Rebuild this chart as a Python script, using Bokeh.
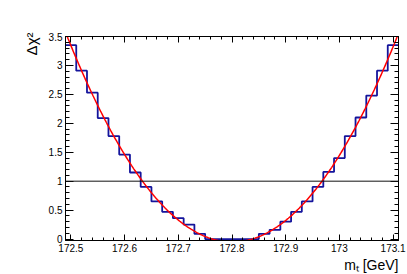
import numpy as np
from bokeh.plotting import figure
from bokeh.models import Range1d, LinearAxis, FixedTicker, Span, Title
from bokeh.embed import file_html
from bokeh.resources import INLINE

# ---- data ----
mass = [172.50, 172.52, 172.54, 172.56, 172.58, 172.60, 172.62, 172.64,
        172.66, 172.68, 172.70, 172.72, 172.74, 172.76, 172.78, 172.80,
        172.82, 172.84, 172.86, 172.88, 172.90, 172.92, 172.94, 172.96,
        172.98, 173.00, 173.02, 173.04, 173.06, 173.08, 173.10]
dchi2 = [3.35, 2.91, 2.53, 2.09, 1.78, 1.46, 1.15, 0.90,
         0.65, 0.47, 0.36, 0.25, 0.09, 0.00, 0.00, 0.00,
         0.00, 0.00, 0.09, 0.16, 0.30, 0.47, 0.65, 0.90,
         1.16, 1.40, 1.78, 2.10, 2.48, 2.91, 3.35]
bin_width = 0.02
ref_level = 1.0

x_tick_values = [172.5, 172.6, 172.7, 172.8, 172.9, 173.0, 173.1]
x_tick_labels = ["172.5", "172.6", "172.7", "172.8", "172.9", "173", "173.1"]
y_tick_values = [0.0, 0.5, 1.0, 1.5, 2.0, 2.5, 3.0, 3.5]
y_tick_labels = ["0", "0.5", "1", "1.5", "2", "2.5", "3", "3.5"]
x_title = "mₜ [GeV]"
y_title = "Δχ²"

x_lo, x_hi = 172.49, 173.11
y_lo, y_hi = -0.025, 3.5

x_minor = np.round(np.arange(172.50, 173.1001, 0.02), 2).tolist()
y_minor = np.round(np.arange(0.0, 3.5001, 0.1), 1).tolist()

FONT = "Liberation Sans"

p = figure(width=407, height=274, output_backend="svg", toolbar_location=None,
           x_range=Range1d(x_lo, x_hi), y_range=Range1d(y_lo, y_hi),
           x_axis_type=None, y_axis_type=None,
           min_border_left=65, min_border_right=9, min_border_top=36,
           min_border_bottom=34)
p.grid.visible = False
p.outline_line_color = "black"
p.background_fill_color = "white"
p.border_fill_color = "white"


def make_axis(ticks, minor, labels, tin, mtin, show=True):
    ax = LinearAxis(ticker=FixedTicker(ticks=ticks, minor_ticks=minor),
                    major_tick_in=tin, major_tick_out=0,
                    minor_tick_in=mtin, minor_tick_out=0,
                    axis_line_color="black", major_tick_line_color="black",
                    minor_tick_line_color="black",
                    major_label_overrides={v: l for v, l in zip(ticks, labels)},
                    major_label_text_font=FONT,
                    major_label_text_font_size="10px",
                    major_label_text_color="black",
                    major_label_standoff=3)
    if not show:
        ax.major_label_text_color = None
        ax.major_label_text_font_size = "1px"
        ax.major_label_standoff = 0
    return ax


p.add_layout(make_axis(x_tick_values, x_minor, x_tick_labels, 6, 3), "below")
p.add_layout(make_axis(x_tick_values, x_minor, x_tick_labels, 6, 3, False), "above")
p.add_layout(make_axis(y_tick_values, y_minor, y_tick_labels, 8, 4), "left")
p.add_layout(make_axis(y_tick_values, y_minor, y_tick_labels, 8, 4, False), "right")

# axis titles, aligned to the end of each axis as in the original
p.add_layout(Title(text=x_title, align="right", text_font=FONT,
                   text_font_size="14px", text_font_style="normal",
                   text_color="black", standoff=0), "below")
p.add_layout(Title(text=y_title, align="right", text_font=FONT,
                   text_font_size="15px", text_font_style="normal",
                   text_color="black", standoff=12, offset=-4), "left")

# histogram outline
edges = [m - bin_width / 2 for m in mass] + [mass[-1] + bin_width / 2]
steps = dchi2 + [dchi2[-1]]
p.step(edges, steps, mode="after", line_color="#14149c", line_width=1.8)

# Delta chi2 = 1 line
p.add_layout(Span(location=ref_level, dimension="width",
                  line_color="#111111", line_width=1))

# parabola fit to the scan
coef = np.polyfit(mass, dchi2, 2)
xf = np.linspace(x_lo, x_hi, 400)
p.line(xf, np.polyval(coef, xf), line_color="#ff0000", line_width=1.5)

open("out.html", "w").write(file_html(p, INLINE))
